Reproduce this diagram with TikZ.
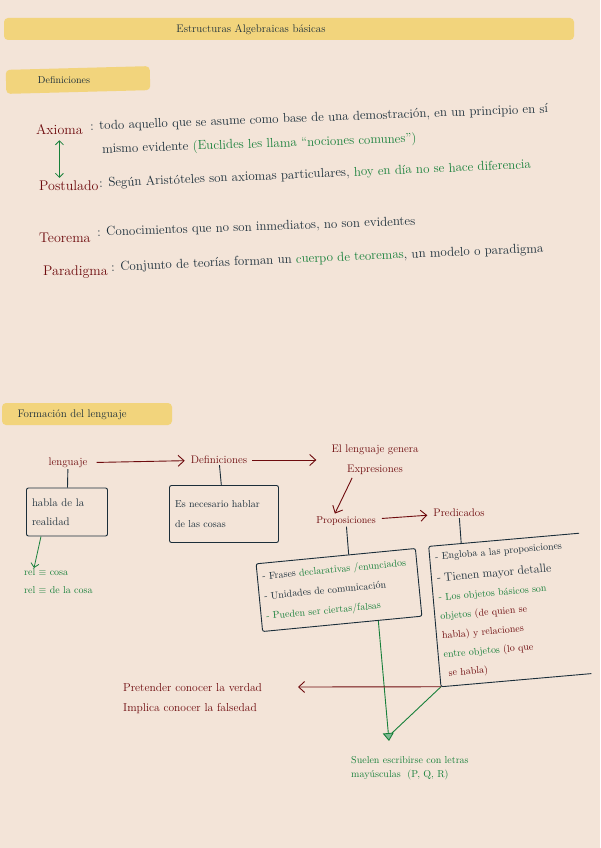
\documentclass[tikz,border=0pt]{standalone}
\usetikzlibrary{arrows.meta, calc}
\definecolor{paper}{HTML}{F3E4D8}
\definecolor{hilite}{HTML}{F2D47C}
\definecolor{mar}{HTML}{6E0B0E}
\definecolor{ink}{HTML}{1B2E3A}
\definecolor{grn}{HTML}{17803A}

\begin{document}
\begin{tikzpicture}[x=1pt, y=-1pt, >={Straight Barb[length=6pt, width=11pt]},
  bar/.style={fill=hilite, rounded corners=4pt, inner sep=0pt},
  term/.style={text=mar, font=\fontsize{14}{16}\selectfont, anchor=west, inner sep=0pt},
  txt/.style={text=ink, font=\fontsize{13}{15}\selectfont, anchor=west, inner sep=0pt},
  word/.style={text=mar, font=\fontsize{11}{13}\selectfont, inner sep=1pt},
  box/.style={draw=ink, line width=0.9pt, rounded corners=2pt, align=left, text=ink, font=\fontsize{10}{20}\selectfont},
  link/.style={draw=mar, line width=0.9pt, ->},
  note/.style={text=grn, align=left, inner sep=0pt}]

\fill[paper] (0,0) rectangle (600,848);
\useasboundingbox (0,0) rectangle (600,848);

% =================================================================================
% title and the definitions
% =================================================================================
\node[bar, minimum width=570pt, minimum height=22pt] (tbar) at (289,29) {};
\node[text=ink, font=\fontsize{11}{13}\selectfont] (title) at (251,30) {Estructuras Algebraicas básicas};

\node[bar, rotate=1.5, minimum width=144pt, minimum height=24pt] (dbar) at (78,80) {};
\node[text=ink, font=\fontsize{10}{12}\selectfont] (dtitle) at (64,80) {Definiciones};

\node[term] (axi) at (36,130) {Axioma};
\node[txt, rotate=2.2] (axd1) at (90,127) {: todo aquello que se asume como base de una demostración, en un principio en sí};
\node[txt, rotate=2] (axd2) at (102,150) {mismo evidente {\color{grn}(Euclides les llama ``nociones comunes'')}};

\node[term] (post) at (39,186) {Postulado};
\node[txt, rotate=2.5] (postd) at (99,184) {: Según Aristóteles son axiomas particulares, {\color{grn}hoy en día no se hace diferencia}};
\draw[grn, line width=0.8pt, shorten <=5pt, shorten >=3pt,
  {Straight Barb[length=4pt, width=8pt]}-{Straight Barb[length=4pt, width=8pt]}]
  (axi.south) -- (axi.south |- post.north);

\node[term] (teo) at (39,238) {Teorema};
\node[txt, rotate=2] (teod) at (97,233) {: Conocimientos que no son inmediatos, no son evidentes};
\node[term] (para) at (43,272) {Paradigma};
\node[txt, rotate=2.5] (parad) at (111,268) {: Conjunto de teorías forman un {\color{grn}cuerpo de teoremas}, un modelo o paradigma};

% =================================================================================
% how language is formed
% =================================================================================
\node[bar, minimum width=170pt, minimum height=22pt] (fbar) at (87,414) {};
\node[text=ink, font=\fontsize{11}{13}\selectfont, anchor=west] (ftitle) at (14,415) {Formación del lenguaje};

\node[word] (leng) at (68,463) {lenguaje};
\node[word] (defi) at (219,460) {Definiciones};
\node[word, align=center, font=\fontsize{11}{20}\selectfont] (gen) at (375,460) {El lenguaje genera\\Expresiones};
\node[word, font=\fontsize{10}{12}\selectfont] (prop) at (346,521) {Proposiciones};
\node[word] (pred) at (459,513) {Predicados};

\draw[link, shorten <=8pt, shorten >=5pt] (leng) -- (defi);
\draw[link, shorten <=4pt, shorten >=14pt] (defi) -- (gen);
\draw[link, shorten <=2pt, shorten >=2pt] ([xshift=-22pt]gen.south) -- ([xshift=-12pt]prop.north);
\draw[link, shorten <=5pt, shorten >=5pt] (prop) -- (pred);

\node[box, minimum width=81pt, minimum height=48pt, text width=70pt, font=\fontsize{11}{19}\selectfont] (real) at (67,512) {habla de la\\realidad};
\node[box, minimum width=109pt, minimum height=57pt, text width=98pt] (cosas) at (224,514) {Es necesario hablar\\de las cosas};
\draw[ink, line width=0.9pt] (leng) -- (real);
\draw[ink, line width=0.9pt] (defi) -- (cosas);

\node[note, anchor=north west, font=\fontsize{10}{18}\selectfont] (rel) at (24,568) {rel $\equiv$ cosa\\rel $\equiv$ de la cosa};
\draw[grn, line width=0.8pt, ->, >={Straight Barb[length=4pt, width=8pt]}] ([xshift=-26pt]real.south) -- ([xshift=10pt]rel.north west);

% the two boxes under Proposiciones and Predicados
\node[box, rotate=5.5, minimum width=160pt, minimum height=68pt, text width=150pt] (enun) at (339,590)
  {- Frases {\color{grn}declarativas /enunciados}\\
   - Unidades de comunicación\\
   {\color{grn}- Pueden ser ciertas/falsas}};
\node[box, draw=none, rotate=5, minimum width=150pt, minimum height=140pt, text width=140pt, font=\fontsize{10}{19}\selectfont] (objs) at (510,610)
  {- Engloba a las proposiciones\\[3pt]
   {\fontsize{12}{19}\selectfont - Tienen mayor detalle}\\
   {\color{grn}- Los objetos básicos son}\\
   {\color{grn}objetos} {\color{mar}(de quien se}\\
   {\color{mar}habla) y relaciones}\\
   {\color{grn}entre objetos} {\color{mar}(lo que}\\
   {\color{mar}\ se habla)}};
\draw[ink, line width=0.9pt, rounded corners=2pt] (objs.north east) -- (objs.north west) -- (objs.south west) -- (objs.south east);
\draw[ink, line width=0.9pt] (prop) -- ($(enun.north west)!(prop.south)!(enun.north east)$);
\draw[ink, line width=0.9pt] (pred) -- ($(objs.north west)!(pred.south)!(objs.north east)$);

% both meet at the capital letters
\coordinate (tip) at (389,741);
\coordinate (tipin) at (392,733);
\draw[grn, line width=0.9pt, -{Triangle[length=8pt, width=11pt, fill=grn!55]}] ($(enun.south)!0.45!(enun.south east)$) -- (tip);
\draw[grn, line width=0.9pt] (objs.south west) -- (tipin);
\node[note, anchor=north west, font=\fontsize{10}{14}\selectfont] (mayus) at (351,756) {Suelen escribirse con letras\\mayúsculas \ (P, Q, R)};

\coordinate (verdad) at (298,687);
\draw[link] (objs.south west) -- (verdad);
\node[word, anchor=west, align=left, font=\fontsize{11.5}{20}\selectfont] (pret) at (122,699) {Pretender conocer la verdad\\Implica conocer la falsedad};

\end{tikzpicture}
\end{document}
